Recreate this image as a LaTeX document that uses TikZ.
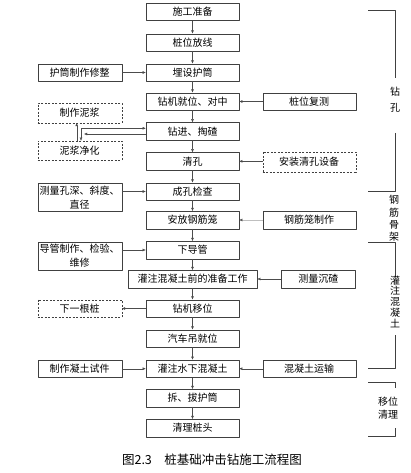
\documentclass[tikz,border=0pt]{standalone}
\usepackage{fontspec}
\newfontfamily\cjk{Noto Sans CJK SC}
\usetikzlibrary{arrows.meta}

\begin{document}
\begin{tikzpicture}[x=1pt, y=-1pt, line join=round,
  box/.style={draw=black!75, fill=white, minimum width=93pt, minimum height=17.5pt,
    inner sep=0pt, align=center, font=\cjk\fontsize{10}{14}\selectfont},
  side/.style={box, minimum width=84pt},
  dbox/.style={side, dash pattern=on 2pt off 1.5pt},
  arr/.style={draw=black!70, -{Latex[length=3.2pt,width=2.8pt]}},
  lab/.style={font=\cjk\fontsize{10}{12}\selectfont, inner sep=0pt, align=center},
  brk/.style={draw=black!75, line width=0.8pt}
]
  \useasboundingbox (0,0) rectangle (411,473);

  % main column
  \node[box] (1) at (192.5,11.7) {施工准备};
  \node[box] (2) at (192.5,42.5) {桩位放线};
  \node[box] (3) at (192.5,72.5) {埋设护筒};
  \node[box] (4) at (192.5,101.5) {钻机就位、对中};
  \node[box] (5) at (192.5,131.3) {钻进、掏碴};
  \node[box] (6) at (192.5,161.3) {清孔};
  \node[box] (7) at (192.5,191.5) {成孔检查};
  \node[box] (8) at (192.5,220) {安放钢筋笼};
  \node[box] (9) at (192.5,250) {下导管};
  \node[box, minimum width=129pt] (10) at (192.5,279) {灌注混凝土前的准备工作};
  \node[box] (11) at (192.5,308.5) {钻机移位};
  \node[box] (12) at (192.5,338.5) {汽车吊就位};
  \node[box] (13) at (192.5,368.7) {灌注水下混凝土};
  \node[box] (14) at (192.5,398) {拆、拔护筒};
  \node[box] (15) at (192.5,428) {清理桩头};

  \foreach \i [evaluate=\i as \j using int(\i+1)] in {1,...,14}
    \draw[arr] (\i.south) -- (\j.north);

  % left column
  \node[side] (L3) at (79.7,72.5) {护筒制作修整};
  \node[dbox, minimum height=19.5pt] (Lm) at (79.7,113) {制作泥浆};
  \node[dbox, minimum height=19pt] (Lc) at (79.7,150.5) {泥浆净化};
  \node[side, minimum height=28.7pt] (L7) at (79.7,197.3) {测量孔深、斜度、\\直径};
  \node[side, minimum height=28.5pt] (L9) at (79.7,256) {导管制作、检验、\\维修};
  \node[dbox] (L11) at (79.7,308.5) {下一根桩};
  \node[side] (L13) at (79.7,368.7) {制作凝土试件};

  % right column
  \node[box] (R4) at (309.2,101.5) {桩位复测};
  \node[box, dash pattern=on 2pt off 1.5pt, minimum height=20pt] (R6) at (309.2,161.8) {安装清孔设备};
  \node[box] (R8) at (309.2,220) {钢筋笼制作};
  \node[box, minimum width=73.3pt] (R10) at (318.3,279) {测量沉碴};
  \node[box] (R13) at (309.2,368.7) {混凝土运输};

  \draw[arr] (L3.east) -- (3.west);
  \draw[arr] (R4.west) -- (4.east);
  \draw[arr] (R6.west |- 6.east) -- (6.east);
  \draw[arr] (L7.east |- 7.west) -- (7.west);
  \draw[arr, draw=black!25, arrows={-{Latex[length=3.2pt,width=2.8pt,black!70]}}] (R8.west) -- (8.east);
  \draw[arr] (L9.east |- 9.west) -- (9.west);
  \draw[arr] (R10.west) -- (10.east);
  \draw[arr] (11.west) -- (L11.east);
  \draw[arr] (L13.east) -- (13.west);
  \draw[arr] (R13.west) -- (13.east);

  % mud loop
  \coordinate (p1) at (81,128.3);
  \coordinate (p2) at (84,134);
  \coordinate (p3) at (76.7,141);
  \draw[arr] (p1) -- (5.west |- p1);
  \draw[arr] (5.west |- p2) -- (p2);
  \draw[arr] (p1) -- (p1 |- Lc.north);
  \draw[arr] (p3 |- Lc.north) -- (p3 |- Lm.south);

  % stage brackets
  \draw[brk] (368,10.7) -- (395,10.7) -- (395,78);
  \draw[brk] (395,133) -- (395,191.7) -- (368,191.7);
  \node[lab] (s1) at (395,91.7) {钻};
  \node[lab] (s2) at (395,108) {孔};
  \node[lab, font=\cjk\fontsize{10}{12.2}\selectfont] (s3) at (394,218.4) {钢\\筋\\骨\\架};
  \draw[brk] (368,242.7) -- (395,242.7) -- (395,276.7);
  \draw[brk] (395,335) -- (395,368.3) -- (368,368.3);
  \node[lab, font=\cjk\fontsize{10}{10.8}\selectfont] (s4) at (395,301.6) {灌\\注\\混\\凝\\土};
  \draw[brk] (368,382.7) -- (395,382.7) -- (395,388);
  \draw[brk] (395,428) -- (395,436.7) -- (368,436.7);
  \node[lab, font=\cjk\fontsize{10}{13.5}\selectfont] (s5) at (388,408.3) {移位\\清理};

  \node[font=\cjk\fontsize{12.5}{14}\selectfont, inner sep=0pt] (cap) at (212,459.5) {图2.3\quad 桩基础冲击钻施工流程图};
\end{tikzpicture}
\end{document}
